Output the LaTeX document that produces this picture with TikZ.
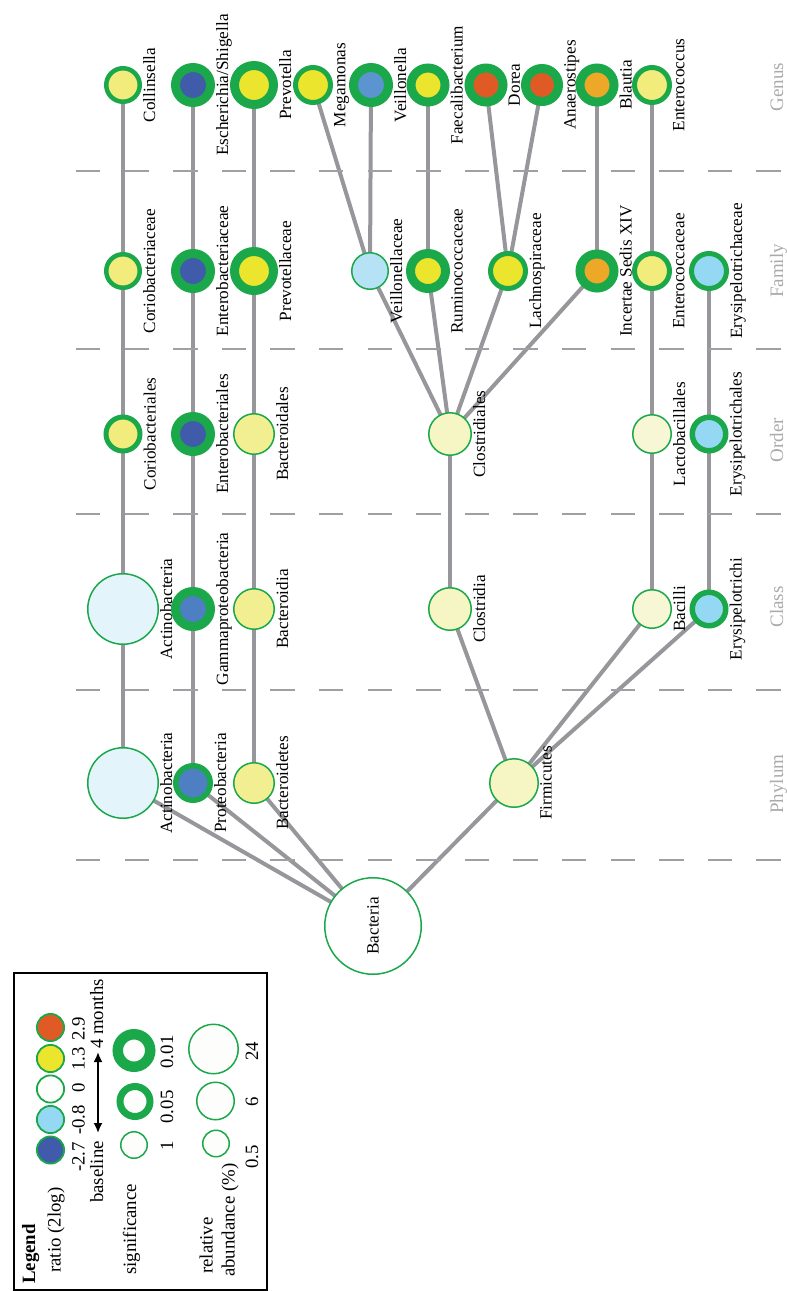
\documentclass[tikz,border=0pt]{standalone}
\usepackage{fontspec}
\setmainfont{Liberation Serif}
\usetikzlibrary{backgrounds,arrows.meta}

% colours
\definecolor{sgreen}{RGB}{27,168,75}
\definecolor{edgegray}{RGB}{151,151,155}
\definecolor{dashgray}{RGB}{160,160,164}
\definecolor{rankgray}{RGB}{170,170,172}
\definecolor{pyel}{HTML}{F1EC7C}
\definecolor{byel}{HTML}{ECE52E}
\definecolor{dblue}{HTML}{3F5BA9}
\definecolor{mblue}{HTML}{5B94CF}
\definecolor{mbluetwo}{HTML}{4F7FC3}
\definecolor{lblue}{HTML}{95D8F4}
\definecolor{vlblue}{HTML}{B6E2F6}
\definecolor{xlblue}{HTML}{E3F4FB}
\definecolor{orng}{HTML}{EEA827}
\definecolor{redor}{HTML}{E05A26}
\definecolor{yeltwo}{HTML}{F2EF93}
\definecolor{cream}{HTML}{F6F5C4}
\definecolor{creamtwo}{HTML}{F8F7D5}
\definecolor{offwhite}{HTML}{FDFDFB}

% taxon circle: name, x, y, outer radius, ring width, fill, label
\newcommand\txn[7]{%
  \node[ring={#4}{#5}{#6}] (#1) at (#2,#3) {};
  \node[lab] (#1-l) at (#2+#4+1,#3) {#7};
}
% legend circle: name, x, y, outer radius, ring width, fill
\newcommand\lgc[6]{%
  \node[ring={#4}{#5}{#6}] (#1) at (#2,#3) {};
}

\begin{document}
\begin{tikzpicture}[x=1pt,y=-1pt,
  ring/.style n args={3}{circle, inner sep=0pt, outer sep=0pt,
    minimum size={(2*#1-#2)*1pt}, line width=#2pt, draw=sgreen, fill=#3},
  lab/.style={rotate=90, anchor=north, inner sep=0pt,
    font=\fontsize{17.2}{17.2}\selectfont},
  rank/.style={rotate=90, anchor=base, inner sep=0pt, text=rankgray,
    font=\fontsize{19}{19}\selectfont},
  edge/.style={draw=edgegray, line width=4pt},
  rankline/.style={draw=dashgray, line width=2pt, dash pattern=on 24.3pt off 24.3pt},
  ltext/.style={rotate=90, inner sep=0pt, font=\fontsize{18.8}{18.8}\selectfont},
]
\useasboundingbox (0,0) rectangle (787,1291);

% rank separators
\foreach \yy in {171,349,514,690,860}
  \draw[rankline] (76,\yy) -- (782,\yy);

% rank names
\node[rank] (r-genus) at (783,87) {Genus};
\node[rank] (r-family) at (783,271) {Family};
\node[rank] (r-order) at (783,440) {Order};
\node[rank] (r-class) at (783,607) {Class};
\node[rank] (r-phylum) at (783,784) {Phylum};

% genus
\txn{collinsella}{123}{85}{19}{4.5}{pyel}{Collinsella}
\txn{escherichia}{193}{85}{22}{9}{dblue}{Escherichia/Shigella}
\txn{prevotella}{254}{85}{24}{9}{byel}{Prevotella}
\txn{megamonas}{313}{85}{20}{5}{byel}{Megamonas}
\txn{veillonella}{371}{85}{22}{9}{mblue}{Veillonella}
\txn{faecali}{428}{85}{21.5}{9}{byel}{Faecalibacterium}
\txn{dorea}{486}{85}{21.5}{9}{redor}{Dorea}
\txn{anaerostipes}{542}{85}{21}{9}{redor}{Anaerostipes}
\txn{blautia}{597}{85}{21.5}{9}{orng}{Blautia}
\txn{enterococcus}{652}{85}{20}{5}{pyel}{Enterococcus}

% family
\txn{coriobacteriaceae}{123}{271}{19}{4.5}{pyel}{Coriobacteriaceae}
\txn{enterobacteriaceae}{193}{271}{22}{9}{dblue}{Enterobacteriaceae}
\txn{prevotellaceae}{254}{271}{24}{9}{byel}{Prevotellaceae}
\txn{veillonellaceae}{370}{271}{19}{1.5}{vlblue}{Veillonellaceae}
\txn{ruminococcaceae}{428}{271}{22}{9}{byel}{Ruminococcaceae}
\txn{lachnospiraceae}{508}{271}{20}{5}{byel}{Lachnospiraceae}
\txn{incertae}{597}{271}{21.5}{9}{orng}{Incertae Sedis XIV}
\txn{enterococcaceae}{652}{271}{20}{5}{pyel}{Enterococcaceae}
\txn{erysipelotrichaceae}{709}{271}{20}{5}{lblue}{Erysipelotrichaceae}

% order
\txn{coriobacteriales}{123}{434}{19.5}{5}{pyel}{Coriobacteriales}
\txn{enterobacteriales}{193}{434}{22}{9}{dblue}{Enterobacteriales}
\txn{bacteroidales}{254}{434}{21}{1.5}{yeltwo}{Bacteroidales}
\txn{clostridiales}{450}{434}{22}{1.5}{cream}{Clostridiales}
\txn{lactobacillales}{652}{434}{20}{1.5}{creamtwo}{Lactobacillales}
\txn{erysipelotrichales}{709}{434}{19.5}{5.5}{lblue}{Erysipelotrichales}

% class
\txn{actinoC}{123}{609}{36}{1.5}{xlblue}{Actinobacteria}
\txn{gamma}{193}{609}{22}{9}{mbluetwo}{Gammaproteobacteria}
\txn{bacteroidia}{254}{609}{21}{1.5}{yeltwo}{Bacteroidia}
\txn{clostridia}{450}{609}{22}{1.5}{cream}{Clostridia}
\txn{bacilli}{652}{609}{20}{1.5}{creamtwo}{Bacilli}
\txn{erysipelotrichi}{709}{609}{19.5}{5.5}{lblue}{Erysipelotrichi}

% phylum
\txn{actinoP}{123}{783}{36}{1.5}{xlblue}{Actinobacteria}
\txn{proteo}{193}{783}{20}{5.5}{mbluetwo}{Proteobacteria}
\txn{bacteroidetes}{254}{783}{21}{1.5}{yeltwo}{Bacteroidetes}
\txn{firmicutes}{514}{783}{25}{1.5}{cream}{Firmicutes}

% root
\node[ring={49}{1.5}{white}] (bacteria) at (373,926) {};
\node[lab, anchor=center] (bacteria-l) at (bacteria) {Bacteria};

% tree edges, behind the circles
\begin{scope}[on background layer]
  \foreach \a/\b in {
    bacteria/actinoP, bacteria/proteo, bacteria/bacteroidetes, bacteria/firmicutes,
    actinoP/actinoC, actinoC/coriobacteriales, coriobacteriales/coriobacteriaceae,
    coriobacteriaceae/collinsella,
    proteo/gamma, gamma/enterobacteriales, enterobacteriales/enterobacteriaceae,
    enterobacteriaceae/escherichia,
    bacteroidetes/bacteroidia, bacteroidia/bacteroidales, bacteroidales/prevotellaceae,
    prevotellaceae/prevotella,
    firmicutes/clostridia, firmicutes/bacilli, firmicutes/erysipelotrichi,
    clostridia/clostridiales,
    clostridiales/veillonellaceae, clostridiales/ruminococcaceae,
    clostridiales/lachnospiraceae, clostridiales/incertae,
    veillonellaceae/megamonas, veillonellaceae/veillonella,
    ruminococcaceae/faecali,
    lachnospiraceae/dorea, lachnospiraceae/anaerostipes,
    incertae/blautia,
    bacilli/lactobacillales, lactobacillales/enterococcaceae,
    enterococcaceae/enterococcus,
    erysipelotrichi/erysipelotrichales, erysipelotrichales/erysipelotrichaceae}
    \draw[edge] (\a.center) -- (\b.center);
\end{scope}

% legend
\draw[line width=1.6pt] (14,973) rectangle (267,1290);
\node[ltext, anchor=base west, font=\fontsize{18.8}{18.8}\selectfont\bfseries] (lg-title) at (35,1284) {Legend};
\node[ltext, anchor=base west] (lg-ratio) at (60.5,1273) {ratio (2log)};
\node[ltext, anchor=base west] (lg-sig) at (136,1275) {significance};
\node[ltext, anchor=base west] (lg-rel) at (212.5,1274) {relative};
\node[ltext, anchor=base west] (lg-abund) at (234.5,1277) {abundance (\%)};

% ratio scale
\lgc{lr1}{50.5}{1150}{14.5}{1.8}{dblue}
\lgc{lr2}{50.5}{1119.5}{14.5}{1.8}{lblue}
\lgc{lr3}{50.5}{1089}{14.5}{1.8}{offwhite}
\lgc{lr4}{50.5}{1058.5}{14.5}{1.8}{byel}
\lgc{lr5}{50.5}{1027.5}{14.5}{1.8}{redor}
\node[ltext, anchor=base] (lrt1) at (84.5,1157) {-2.7};
\node[ltext, anchor=base] (lrt2) at (84.5,1120) {-0.8};
\node[ltext, anchor=base] (lrt3) at (84.5,1087.5) {0};
\node[ltext, anchor=base] (lrt4) at (84.5,1059) {1.3};
\node[ltext, anchor=base] (lrt5) at (84.5,1029) {2.9};
\node[ltext, anchor=base] (lbase) at (103,1172) {baseline};
\node[ltext, anchor=base] (lmonths) at (103,1014) {4 months};
\coordinate (arrA) at (98,1133);
\coordinate (arrB) at (98,1052);
\draw[line width=1.8pt, {Latex[length=10pt,width=9pt]}-{Latex[length=10pt,width=9pt]}] (arrA) -- (arrB);

% significance scale
\lgc{ls1}{134}{1145}{14}{1.5}{offwhite}
\lgc{ls2}{135}{1101.5}{18.5}{7}{offwhite}
\lgc{ls3}{134}{1050.5}{21.5}{10.5}{offwhite}
\node[ltext, anchor=base] (lst1) at (173,1146) {1};
\node[ltext, anchor=base] (lst2) at (173,1107) {0.05};
\node[ltext, anchor=base] (lst3) at (173,1052) {0.01};

% abundance scale
\lgc{la1}{216}{1143.5}{14}{1.5}{offwhite}
\lgc{la2}{215.5}{1101}{19.5}{1.5}{offwhite}
\lgc{la3}{213.5}{1049}{25.5}{1.5}{offwhite}
\node[ltext, anchor=base] (lat1) at (258,1157) {0.5};
\node[ltext, anchor=base] (lat2) at (258,1102) {6};
\node[ltext, anchor=base] (lat3) at (258,1051) {24};
\end{tikzpicture}
\end{document}
